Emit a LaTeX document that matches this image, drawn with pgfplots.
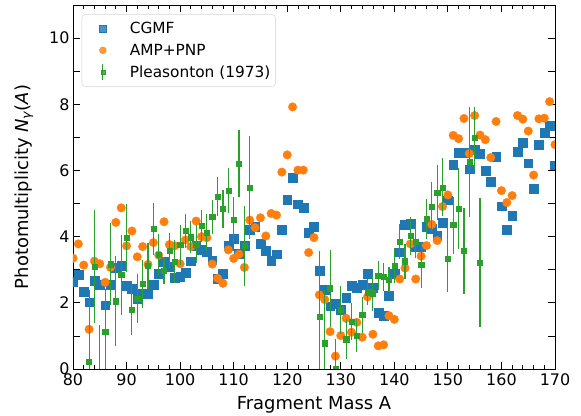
\documentclass[border=0pt]{standalone}
\usepackage{fontspec}
\setmainfont{DejaVu Sans}
\usepackage{pgfplots}
\usepackage{pgfplotstable}
\pgfplotsset{compat=1.18}

\definecolor{cgmfblue}{HTML}{1F77B4}
\definecolor{amporange}{HTML}{FF7F0E}
\definecolor{pleagreen}{HTML}{2CA02C}

\pgfplotsset{
    dotlegend/.style={legend image code/.code={
        \path[draw=none, fill=none] (0bp,0bp) -- (30bp,0bp);
        \draw[##1, mark size=3.5bp] plot coordinates {(18bp,0bp)};}},
    errlegend/.style={legend image code/.code={
        \path[draw=none, fill=none] (0bp,0bp) -- (30bp,0bp);
        \draw[pleagreen, line width=1.1bp] (18bp,-8bp) -- (18bp,8bp);
        \draw[##1, mark size=2.1bp] plot coordinates {(18bp,0bp)};}},
}

% CGMF
\pgfplotstableread{
A N
80 2.64
81 2.86
82 2.33
83 2.02
84 2.67
85 2.56
86 1.93
87 2.56
88 3.07
89 3.12
90 2.52
91 2.44
92 2.13
93 2.28
94 2.28
95 2.56
96 2.87
97 3.24
98 3.09
99 2.75
100 2.79
101 2.91
102 3.26
103 3.72
104 3.61
105 3.55
106 3.29
107 2.72
108 2.87
109 3.72
110 3.95
111 3.49
112 3.72
113 4.20
114 4.31
115 3.79
116 3.57
117 3.28
118 3.47
119 4.22
120 5.12
121 5.78
122 4.98
123 4.88
124 4.13
125 4.29
126 2.96
127 2.39
128 1.90
129 1.97
130 1.80
131 2.15
132 2.52
133 2.47
134 2.55
135 2.88
136 2.47
137 1.71
138 1.61
139 2.21
140 2.88
141 3.53
142 4.37
143 4.40
144 3.70
145 3.70
146 4.30
147 4.25
148 4.03
149 4.43
150 5.10
151 6.18
152 6.53
153 6.55
154 6.04
155 6.64
156 6.50
157 6.00
158 5.66
159 6.42
160 4.92
161 4.21
162 4.64
163 6.56
164 6.85
165 6.22
166 5.44
167 6.79
168 7.15
169 7.35
170 6.16
}\tabcgmf

% AMP+PNP
\pgfplotstableread{
A N
80 3.35
81 3.78
82 3.14
83 1.20
84 3.26
85 3.18
86 2.62
87 3.07
88 4.43
89 4.87
90 3.72
91 4.17
92 3.39
93 3.70
94 3.16
95 3.82
96 3.44
97 4.45
98 3.76
99 3.72
100 3.18
101 3.90
102 3.70
103 4.47
104 4.00
105 3.97
106 3.17
107 2.74
108 2.59
109 3.60
110 3.34
111 3.47
112 3.07
113 4.50
114 4.27
115 4.57
116 4.02
117 4.70
118 4.65
119 5.95
120 6.47
121 7.92
122 6.01
123 6.01
124 3.52
125 3.97
126 2.24
127 2.10
128 1.13
129 0.39
130 1.01
131 1.53
132 1.11
133 1.41
134 0.96
135 2.18
136 1.05
137 0.70
138 0.73
139 1.61
140 1.50
141 2.72
142 3.05
143 3.78
144 2.72
145 3.41
146 3.73
147 4.37
148 3.88
149 4.91
150 5.26
151 7.06
152 6.96
153 7.57
154 6.51
155 7.66
156 7.07
157 6.93
158 6.39
159 7.48
160 5.39
161 5.03
162 5.24
163 7.66
164 7.55
165 7.19
166 5.86
167 7.56
168 7.58
169 8.08
170 6.78
}\tabamp

% Pleasonton (1973), value and error
\pgfplotstableread{
A N E
83 0.23 2.16
84 3.09 1.70
85 -0.25 1.58
86 1.13 1.30
87 3.17 1.25
88 2.05 1.35
89 2.84 1.20
90 3.97 1.03
91 1.80 0.77
92 2.13 0.75
93 2.57 0.73
94 3.11 0.70
95 4.23 0.80
96 3.46 0.63
97 2.98 0.41
98 3.58 0.52
99 3.24 0.65
100 3.75 0.60
101 4.17 0.52
102 3.98 0.48
103 3.77 0.58
104 4.32 0.47
105 4.12 0.55
106 4.60 0.52
107 5.21 0.60
108 4.84 0.57
109 5.39 0.67
110 4.50 0.70
111 6.21 1.00
112 3.72 1.20
113 5.49 1.55
126 1.57 2.00
127 0.78 1.60
128 2.44 1.17
129 0.02 0.90
130 1.78 0.72
131 0.90 0.60
132 1.43 0.55
133 1.01 0.50
134 1.63 0.55
135 2.32 0.40
136 2.29 0.55
137 2.82 0.43
138 2.79 0.42
139 2.71 0.38
140 3.12 0.53
141 3.85 0.53
142 3.26 0.53
143 4.02 0.58
144 3.85 0.50
145 3.14 0.70
146 4.54 0.60
147 4.90 0.76
148 5.33 0.83
149 5.49 0.88
150 3.34 1.00
151 4.35 0.86
152 4.85 1.22
153 3.58 1.30
154 6.26 1.66
155 6.98 0.93
156 3.21 1.95
}\tabplea

\begin{document}
\begin{tikzpicture}
\useasboundingbox (-73bp,-47bp) rectangle (508bp,369bp);
\begin{axis}[
    at={(0,0)}, anchor=south west,
    scale only axis,
    width=482bp, height=364bp,
    xmin=80, xmax=170,
    ymin=0, ymax=11,
    xtick={80,90,...,170},
    minor xtick={82,84,...,168},
    ytick={0,2,...,10},
    extra y ticks={1,3,5,7,9},
    extra y tick labels={},
    tick align=inside,
    xtick pos=both, ytick pos=both,
    major tick length=7bp,
    minor tick length=4bp,
    tick style={line width=0.8bp, black},
    axis line style={line width=0.8bp},
    /pgf/number format/assume math mode=true,
    ticklabel style={font=\fontsize{16}{18}\selectfont},
    xticklabel style={yshift=-1bp},
    xlabel={Fragment Mass A},
    ylabel={Photomultiplicity {\itshape N}\textsubscript{\itshape γ}({\itshape A})},
    label style={font=\fontsize{18}{21}\selectfont},
    xlabel style={yshift=-4bp},
    ylabel style={yshift=9bp},
    clip marker paths=true,
    legend cell align=left,
    legend style={
        at={(0.018,0.974)}, anchor=north west,
        draw=black!18, rounded corners=3bp,
        fill=white, fill opacity=0.8, text opacity=1,
        font=\fontsize{15.4}{18}\selectfont,
        inner xsep=3bp, inner ysep=5.5bp,
        row sep=5bp,
        /tikz/every odd column/.append style={column sep=13bp},
    },
]
\addplot[only marks, mark=square*, mark size=4.4bp,
    mark options={draw=cgmfblue, fill=cgmfblue, line width=0.3bp},
    dotlegend]
    table[x=A, y=N] {\tabcgmf};
\addlegendentry{CGMF}

\addplot[only marks, mark=*, mark size=4.3bp,
    mark options={draw=amporange, fill=amporange, line width=0.3bp},
    dotlegend]
    table[x=A, y=N] {\tabamp};
\addlegendentry{AMP+PNP}

\addplot[only marks, mark=square*, mark size=2.6bp,
    mark options={draw=pleagreen, fill=pleagreen},
    errlegend,
    error bars/.cd,
        y dir=both, y explicit,
        error mark=none,
        error bar style={line width=1.1bp, pleagreen},
    ]
    table[x=A, y=N, y error=E] {\tabplea};
\addlegendentry{Pleasonton (1973)}
\end{axis}
\end{tikzpicture}
\end{document}
